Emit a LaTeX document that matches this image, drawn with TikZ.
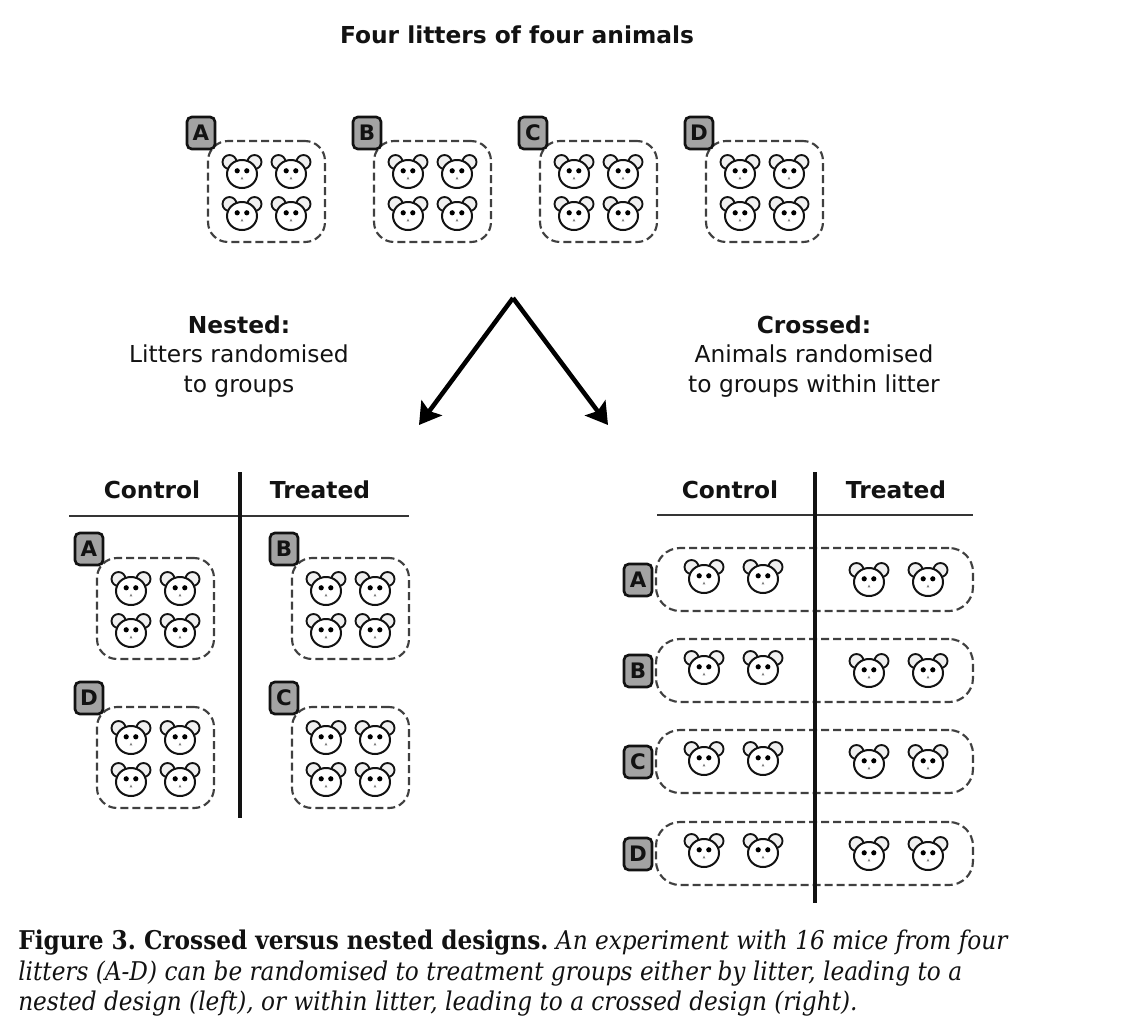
\documentclass[tikz,border=0pt]{standalone}
\usepackage{fontspec}
\setmainfont{DejaVu Sans}
\newfontfamily\capfont{DejaVu Serif Condensed}
\usetikzlibrary{arrows.meta}
\definecolor{ink}{gray}{0.07}
\definecolor{dashink}{gray}{0.25}
\definecolor{tagfill}{gray}{0.64}
\frenchspacing
\tikzset{
  x=0.75pt,y=-0.75pt,
  litter/.style={draw=dashink,line width=1.6pt,dash pattern=on 6pt off 3pt,rounded corners=15pt,minimum width=87.75pt,minimum height=75.75pt,inner sep=0pt,outer sep=0pt},
  rowbox/.style={litter,rounded corners=18pt,minimum width=237.75pt,minimum height=47.25pt},
  tagbox/.style={draw=ink,line width=2pt,fill=tagfill,rounded corners=3.6pt,minimum width=21pt,minimum height=24pt,inner sep=0pt,font=\fontsize{16}{18}\selectfont\bfseries,text=ink},
  head/.style={font=\fontsize{17.5}{20}\selectfont\bfseries,text=ink,inner sep=0pt},
  txt/.style={font=\fontsize{17.5}{22}\selectfont,text=ink,align=center,inner sep=0pt},
  rule/.style={draw=ink,line width=3pt},
  thin rule/.style={draw=ink!85!white,line width=1.6pt},
  bigarrow/.style={draw=black,line width=3.4pt,-{Stealth[length=16pt,width=19pt,inset=3pt]}},
  pics/mouse/.style={code={
    \draw[line width=1.4pt,draw=ink,fill=gray!12] (-12.5,-13) circle[radius=7];
    \draw[line width=1.4pt,draw=ink,fill=gray!12] (12.5,-13) circle[radius=7];
    \draw[line width=1.5pt,draw=ink,fill=white] (0,-1) ellipse[x radius=15,y radius=14];
    \fill[black] (-4.8,-4.2) circle[radius=2.6];
    \fill[black] (4.8,-4.2) circle[radius=2.6];
    \fill[gray] (-1.4,4.4) -- (0,1.6) -- (1.4,4.4) -- cycle;
  }}
}
% tag + dashed litter box + four mice; #1 name, #2 x-left, #3 y-top of box
\newcommand{\litterset}[3]{%
  \node[litter,anchor=north west] (box#1) at (#2,#3) {};
  \node[tagbox] (tag#1) at (#2-7,#3-8) {#1};
  \pic at (#2+34,#3+34) {mouse};
  \pic at (#2+83,#3+34) {mouse};
  \pic at (#2+34,#3+76) {mouse};
  \pic at (#2+83,#3+76) {mouse};
}
% row of the crossed design; #1 name, #2 y-top
\newcommand{\rowset}[2]{%
  \node[rowbox,anchor=north west] (row#1) at (656,#2) {};
  \node[tagbox] (rtag#1) at (638,#2+32) {#1};
  \pic at (704,#2+32) {mouse};
  \pic at (763,#2+32) {mouse};
  \pic at (869,#2+35) {mouse};
  \pic at (928,#2+35) {mouse};
}
\begin{document}
\begin{tikzpicture}
\useasboundingbox (0,0) rectangle (1125,1032);
\fill[white] (0,0) rectangle (1125,1032);
\node[head] (title) at (517,35) {Four litters of four animals};
\litterset{A}{208}{141}
\litterset{B}{374}{141}
\litterset{C}{540}{141}
\litterset{D}{706}{141}
\node[txt] (nested) at (239,356.5) {\textbf{Nested:}\\Litters randomised\\to groups};
\node[txt] (crossed) at (814,356.5) {\textbf{Crossed:}\\Animals randomised\\to groups within litter};
\coordinate (apex) at (513,298);
\coordinate (endL) at (419,425);
\coordinate (endR) at (608,425);
\draw[bigarrow] (apex) -- (endL);
\draw[bigarrow] (apex) -- (endR);
% nested table
\node[head] (ctlL) at (152,490) {Control};
\node[head] (trtL) at (320,490) {Treated};
\coordinate (hL1) at (69,516);
\coordinate (hL2) at (409,516);
\coordinate (vL1) at (240,472);
\coordinate (vL2) at (240,818);
\draw[thin rule] (hL1) -- (hL2);
\draw[rule] (vL1) -- (vL2);
\node[litter,anchor=north west] (boxNA) at (97,558) {};
\node[tagbox] (tagNA) at (89,549) {A};
\node[litter,anchor=north west] (boxNB) at (292,558) {};
\node[tagbox] (tagNB) at (284,549) {B};
\node[litter,anchor=north west] (boxND) at (97,707) {};
\node[tagbox] (tagND) at (89,698) {D};
\node[litter,anchor=north west] (boxNC) at (292,707) {};
\node[tagbox] (tagNC) at (284,698) {C};
\foreach \bx/\by in {97/558,292/558,97/707,292/707}{
  \pic at (\bx+34,\by+34) {mouse};
  \pic at (\bx+83,\by+34) {mouse};
  \pic at (\bx+34,\by+76) {mouse};
  \pic at (\bx+83,\by+76) {mouse};
}
% crossed table
\node[head] (ctlR) at (730,490) {Control};
\node[head] (trtR) at (896,490) {Treated};
\rowset{A}{548}
\rowset{B}{639}
\rowset{C}{730}
\rowset{D}{822}
\coordinate (hR1) at (657,515);
\coordinate (hR2) at (973,515);
\coordinate (vR1) at (815,472);
\coordinate (vR2) at (815,903);
\draw[thin rule] (hR1) -- (hR2);
\draw[rule] (vR1) -- (vR2);
% caption
\node[anchor=north west,align=left,inner sep=0pt,text=ink,font=\capfont\fontsize{19.35}{22.9}\selectfont] (caption) at (18,930)
 {\textbf{Figure 3. Crossed versus nested designs.} \textit{An experiment with 16 mice from four}\\
  \textit{litters (A-D) can be randomised to treatment groups either by litter, leading to a}\\
  \textit{nested design (left), or within litter, leading to a crossed design (right).}};
\end{tikzpicture}
\end{document}
